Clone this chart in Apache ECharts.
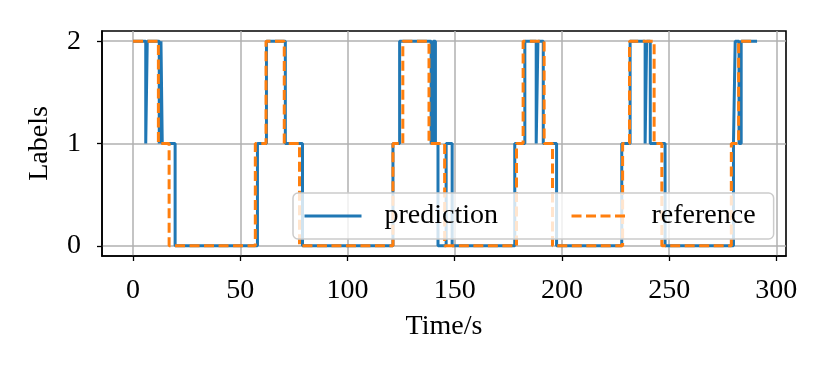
<!DOCTYPE html>
<html>
<head>
<meta charset="utf-8">
<script src="https://cdn.jsdelivr.net/npm/echarts@6/dist/echarts.min.js"></script>
<style>
  html, body { margin: 0; padding: 0; background: #fff; }
  #chart { width: 830px; height: 374px; }
</style>
</head>
<body>
<div id="chart"></div>
<script>
// step change points (value holds until next time)
const refTimes = [0, 11.8, 16.8, 57, 62, 70.5, 77.6, 121.2, 125.8, 138, 145.3, 178.8, 181.9, 191.7, 195.6, 228.3, 231.5, 243, 246.6, 279, 282.4, 290];
const refLabels = [2, 1, 0, 1, 2, 1, 0, 1, 2, 1, 0, 1, 2, 1, 0, 1, 2, 1, 0, 1, 2, 2];

const predTimes = [0, 5.9, 6.6, 12.2, 13, 13.6, 19.6, 58, 62.2, 71, 79, 121.2, 124.3, 139, 140, 141, 142.2, 146, 148.8, 178, 182.7, 188, 188.8, 191.3, 197.5, 227.9, 231.8, 238.8, 239.5, 241.2, 248.1, 280, 280.8, 282.6, 283.6, 291];
const predLabels = [2, 1, 2, 1, 2, 1, 0, 1, 2, 1, 0, 1, 2, 1, 2, 1, 0, 1, 0, 1, 2, 1, 2, 1, 0, 1, 2, 1, 2, 1, 0, 1, 2, 1, 2, 2];

const xTicks = [0, 50, 100, 150, 200, 250, 300];
const yTicks = [0, 1, 2];

const serif = 'Liberation Serif';
const fs = 28;
const chart = echarts.init(document.getElementById('chart'));

chart.setOption({
    animation: false,
    textStyle: { fontFamily: serif },
    grid: {
        left: 102, right: 44, top: 31, bottom: 118,
        show: true,
        borderColor: '#000',
        borderWidth: 1.6
    },
    legend: {
        left: 293, top: 193,
        itemWidth: 57, itemHeight: 14,
        itemGap: 72,
        padding: [9, 18, 9, 10],
        backgroundColor: 'rgba(255,255,255,0.8)',
        borderColor: '#cccccc',
        borderWidth: 1.5,
        borderRadius: 5,
        itemStyle: { color: 'rgba(0,0,0,0)', opacity: 0, borderWidth: 0 },
        lineStyle: { width: 3 },
        textStyle: { fontFamily: serif, fontSize: fs, color: '#000', padding: [0, 0, 0, 18] },
        data: ['prediction', 'reference']
    },
    xAxis: {
        type: 'value',
        min: -14.5, max: 304.5,
        name: 'Time/s',
        nameLocation: 'middle',
        nameGap: 57,
        nameTextStyle: { fontFamily: serif, fontSize: fs, color: '#000' },
        axisLine: { show: true, onZero: false, lineStyle: { color: '#000', width: 1.6 } },
        axisTick: { show: true, length: 5, lineStyle: { color: '#000', width: 1.3 }, customValues: xTicks },
        axisLabel: { fontFamily: serif, fontSize: fs, color: '#000', margin: 21, customValues: xTicks },
        splitLine: { show: true, lineStyle: { color: '#b0b0b0', width: 1.5 } }
    },
    yAxis: {
        type: 'value',
        min: -0.1, max: 2.1,
        name: 'Labels',
        nameLocation: 'middle',
        nameGap: 48,
        nameTextStyle: { fontFamily: serif, fontSize: fs, color: '#000' },
        axisLine: { show: true, onZero: false, lineStyle: { color: '#000', width: 1.6 } },
        axisTick: { show: true, length: 5, lineStyle: { color: '#000', width: 1.3 }, customValues: yTicks },
        axisLabel: { fontFamily: serif, fontSize: fs, color: '#000', margin: 21, customValues: yTicks },
        splitLine: { show: true, lineStyle: { color: '#b0b0b0', width: 1.5 } }
    },
    series: [
        {
            name: 'prediction',
            type: 'line',
            step: 'end',
            symbol: 'none',
            color: '#1f77b4',
            lineStyle: { width: 3, color: '#1f77b4' },
            data: predTimes.map((t, i) => [t, predLabels[i]])
        },
        {
            name: 'reference',
            type: 'line',
            step: 'end',
            symbol: 'none',
            color: '#ff7f0e',
            lineStyle: { width: 3, color: '#ff7f0e', type: [10, 4.5] },
            data: refTimes.map((t, i) => [t, refLabels[i]])
        }
    ]
});
</script>
</body>
</html>
